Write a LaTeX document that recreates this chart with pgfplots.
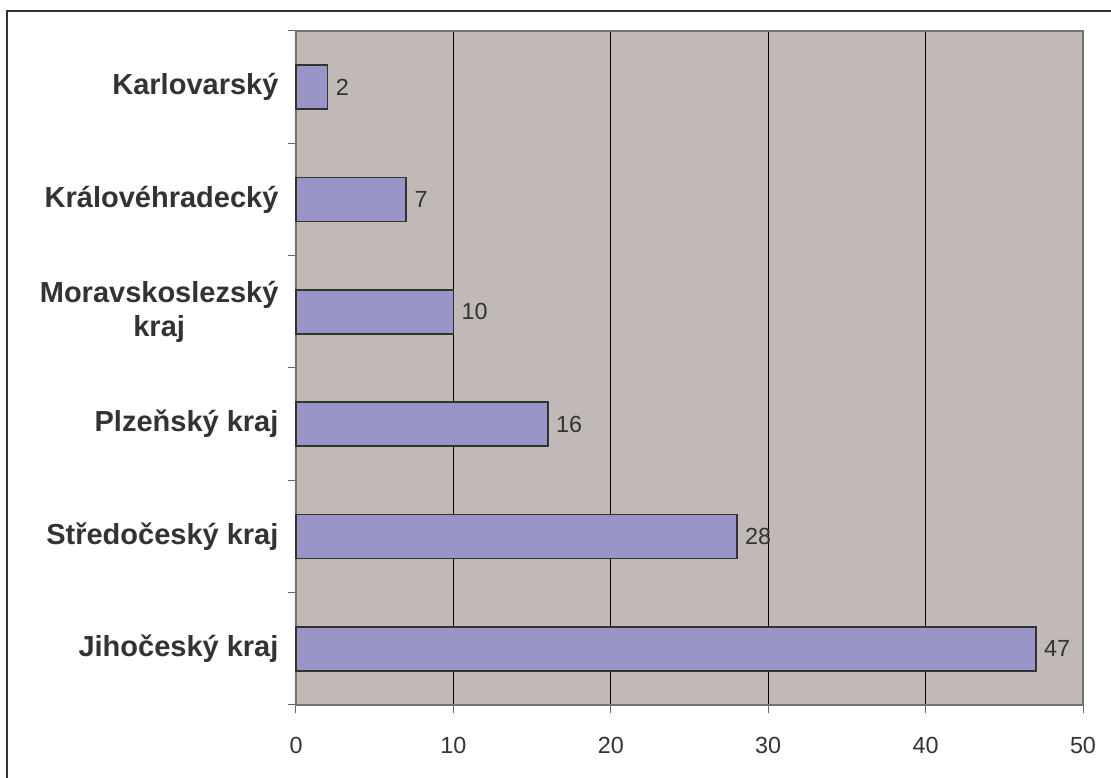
\documentclass[border=0pt]{standalone}
\usepackage{pgfplots}
\pgfplotsset{compat=1.18}
\usepackage{fontspec}
\setmainfont{Liberation Sans}

\definecolor{plotbg}{RGB}{192,185,182}
\definecolor{barfill}{RGB}{153,149,199}
\definecolor{txt}{RGB}{51,51,51}

\begin{document}
\begin{tikzpicture}
\begin{axis}[
    scale only axis,
    width=472.2pt,
    height=404.4pt,
    xbar,
    bar width=0.39,
    xmin=0, xmax=50,
    ymin=-0.5, ymax=5.5,
    xtick={0,10,...,50},
    ytick={0,1,2,3,4,5},
    yticklabels={Jihočeský kraj, Středočeský kraj, Plzeňský kraj, {Moravskoslezský\\kraj}, Královéhradecký, Karlovarský},
    minor ytick={-0.5,0.5,...,5.5},
    xtick pos=bottom,
    ytick pos=left,
    tick align=outside,
    major tick length=5pt,
    minor tick length=5pt,
    ytick style={draw=none},
    minor y tick style={draw=black!60, line width=0.6pt},
    x tick style={draw=black!60, line width=0.6pt},
    xmajorgrids=true,
    major x grid style={black, line width=0.6pt},
    axis background/.style={fill=plotbg},
    axis line style={black!55, line width=0.8pt},
    /pgf/number format/assume math mode=true,
    yticklabel style={font=\fontsize{17.4}{20.5}\selectfont\bfseries, text=txt, align=center, xshift=-2pt},
    xticklabel style={font=\fontsize{14}{16}\selectfont, text=txt, yshift=-11pt},
    nodes near coords,
    every node near coord/.append style={font=\fontsize{14}{16}\selectfont, text=txt, anchor=west, inner sep=0pt, xshift=4.5pt},
    clip=false,
]
\addplot[fill=barfill, draw=black!80, line width=1pt] coordinates {
    (47,0) (28,1) (16,2) (10,3) (7,4) (2,5)
};
\coordinate (SW) at (rel axis cs:0,0);
\coordinate (NE) at (rel axis cs:1,1);
\end{axis}
\pgfresetboundingbox
\useasboundingbox ([xshift=-177.6pt, yshift=-43.8pt]SW) rectangle ([xshift=16.8pt, yshift=18.6pt]NE);
\draw[overlay, black!80, line width=1.2pt] ([xshift=-173.4pt, yshift=-60pt]SW) |- ([xshift=40pt, yshift=12pt]NE);
\end{tikzpicture}
\end{document}
